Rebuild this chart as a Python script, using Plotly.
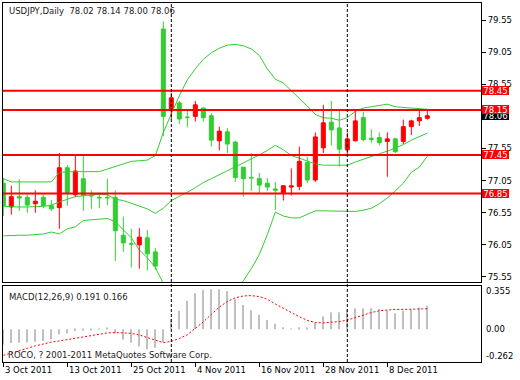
import plotly.graph_objects as go

# ---------------- data ----------------
dates = ["2011-10-03", "2011-10-04", "2011-10-05", "2011-10-06", "2011-10-07",
         "2011-10-10", "2011-10-11", "2011-10-12", "2011-10-13", "2011-10-14",
         "2011-10-17", "2011-10-18", "2011-10-19", "2011-10-20", "2011-10-21",
         "2011-10-24", "2011-10-25", "2011-10-26", "2011-10-27", "2011-10-28",
         "2011-10-31",
         "2011-11-01", "2011-11-02", "2011-11-03", "2011-11-04", "2011-11-07",
         "2011-11-08", "2011-11-09", "2011-11-10", "2011-11-11", "2011-11-14",
         "2011-11-15", "2011-11-16", "2011-11-17", "2011-11-18", "2011-11-21",
         "2011-11-22", "2011-11-23", "2011-11-24", "2011-11-25", "2011-11-28",
         "2011-11-29", "2011-11-30",
         "2011-12-01", "2011-12-02", "2011-12-05", "2011-12-06", "2011-12-07",
         "2011-12-08", "2011-12-09", "2011-12-12", "2011-12-13", "2011-12-14",
         "2011-12-15"]

opens = [77.01, 76.64, 76.80, 76.79, 76.69, 76.79, 76.66, 76.63, 77.25, 76.83,
         77.08, 76.82, 76.79, 76.79, 76.79, 76.20, 76.07, 76.05, 76.16, 75.94,
         79.41, 78.15, 78.26, 78.04, 78.05, 78.18, 78.06, 77.67, 77.81, 77.65,
         77.26, 77.10, 77.08, 77.01, 76.92, 76.86, 76.95, 76.96, 77.33, 77.06,
         77.56, 77.96, 77.87, 77.53, 77.67, 78.03, 77.71, 77.72, 77.66, 77.70,
         77.66, 77.89, 77.98, 78.02]
highs = [77.09, 76.97, 77.07, 76.84, 76.90, 76.84, 76.75, 77.48, 77.29, 77.44,
         77.44, 76.90, 76.86, 77.08, 76.90, 76.49, 76.30, 76.31, 76.28, 76.00,
         79.53, 78.42, 78.29, 78.15, 78.29, 78.18, 78.10, 77.89, 77.87, 77.67,
         77.26, 77.48, 77.17, 77.09, 77.03, 76.98, 77.24, 77.58, 77.42, 77.80,
         78.23, 78.29, 78.15, 77.80, 78.14, 78.12, 77.85, 77.80, 77.80, 77.72,
         78.00, 78.00, 78.15, 78.14]
lows = [76.50, 76.52, 76.58, 76.55, 76.55, 76.62, 76.58, 76.30, 76.66, 76.80,
        76.58, 76.61, 76.62, 76.67, 75.80, 75.94, 75.70, 75.68, 75.65, 75.66,
        77.74, 78.00, 77.93, 77.88, 77.97, 77.97, 77.58, 77.52, 77.48, 77.03,
        76.80, 76.89, 76.85, 76.89, 76.59, 76.74, 76.82, 76.90, 77.01, 77.03,
        77.48, 77.60, 77.27, 77.46, 77.66, 77.66, 77.64, 77.60, 77.11, 77.48,
        77.62, 77.76, 77.90, 78.00]
closes = [76.66, 76.80, 76.78, 76.67, 76.73, 76.66, 76.61, 77.25, 76.86, 77.20,
          76.82, 76.81, 76.78, 76.78, 76.27, 76.08, 76.06, 76.17, 75.91, 75.72,
          78.05, 78.34, 78.01, 78.03, 78.23, 78.03, 77.68, 77.82, 77.62, 77.10,
          77.08, 77.09, 76.98, 76.95, 76.90, 76.97, 76.97, 77.35, 77.06, 77.73,
          77.95, 77.84, 77.54, 77.70, 77.98, 77.69, 77.69, 77.64, 77.70, 77.50,
          77.89, 77.98, 78.03, 78.06]

bb_upper = [77.08, 77.03, 77.03, 77.03, 77.03, 77.03, 77.03, 77.18, 77.19, 77.19,
            77.19, 77.19, 77.19, 77.23, 77.27, 77.32, 77.35, 77.36, 77.37, 77.44,
            77.80, 78.09, 78.37, 78.62, 78.79, 78.94, 79.04, 79.11, 79.16, 79.17,
            79.15, 79.10, 79.00, 78.79, 78.63, 78.57, 78.45, 78.34, 78.21, 78.08,
            78.03, 78.02, 77.99, 78.03, 78.13, 78.18, 78.20, 78.23, 78.24, 78.20,
            78.19, 78.19, 78.18, 78.16]
bb_middle = [76.65, 76.64, 76.64, 76.64, 76.64, 76.65, 76.67, 76.72, 76.76, 76.80,
             76.81, 76.83, 76.84, 76.83, 76.76, 76.74, 76.70, 76.66, 76.61, 76.54,
             76.62, 76.74, 76.80, 76.87, 76.94, 77.02, 77.08, 77.14, 77.20, 77.26,
             77.32, 77.39, 77.45, 77.52, 77.60, 77.53, 77.44, 77.40, 77.35, 77.31,
             77.29, 77.29, 77.28, 77.29, 77.34, 77.38, 77.42, 77.46, 77.51, 77.56,
             77.61, 77.68, 77.73, 77.79]
bb_lower = [76.19, 76.20, 76.20, 76.20, 76.21, 76.22, 76.25, 76.22, 76.30, 76.33,
            76.43, 76.44, 76.46, 76.46, 76.41, 76.28, 76.16, 75.97, 75.85, 75.70,
            75.45, 75.39, 75.23, 75.12, 75.09, 75.10, 75.12, 75.17, 75.24, 75.35,
            75.49, 75.68, 75.90, 76.21, 76.56, 76.50, 76.47, 76.47, 76.53, 76.58,
            76.58, 76.58, 76.58, 76.58, 76.57, 76.59, 76.62, 76.69, 76.78, 76.89,
            77.01, 77.18, 77.26, 77.43]

macd_main = [-0.123, -0.112, -0.110, -0.108, -0.101, -0.095, -0.082, -0.040, -0.033, -0.015,
             -0.012, -0.005, 0.004, 0.006, -0.035, -0.085, -0.110, -0.140, -0.165, -0.150,
             -0.105, 0.080, 0.150, 0.231, 0.292, 0.319, 0.324, 0.324, 0.310, 0.243,
             0.196, 0.155, 0.117, 0.074, 0.044, 0.017, -0.002, 0.016, 0.012, 0.053,
             0.106, 0.138, 0.138, 0.160, 0.171, 0.171, 0.171, 0.165, 0.152, 0.130,
             0.150, 0.161, 0.177, 0.191]
macd_signal = [-0.212, -0.195, -0.172, -0.155, -0.135, -0.117, -0.105, -0.095, -0.084, -0.072,
               -0.058, -0.047, -0.038, -0.030, -0.027, -0.027, -0.033, -0.047, -0.068, -0.090,
               -0.109, -0.098, -0.075, -0.045, 0.005, 0.060, 0.120, 0.180, 0.225, 0.255,
               0.270, 0.273, 0.265, 0.243, 0.205, 0.169, 0.135, 0.101, 0.072, 0.054,
               0.052, 0.055, 0.062, 0.074, 0.095, 0.120, 0.135, 0.150, 0.158, 0.161,
               0.161, 0.162, 0.165, 0.166]

levels = [78.45, 78.15, 77.45, 76.85]
last_price = 78.06
price_ticks = [75.55, 76.05, 76.55, 77.05, 77.55, 78.05, 78.55, 79.05, 79.55]
price_tick_labels = ["75.55", "76.05", "76.55", "77.05", "77.55", "", "78.55", "79.05", "79.55"]
macd_labels = [0.355, 0.00, -0.262]
macd_label_text = ["0.355", "0.00", "-0.262"]
date_tick_dates = ["2011-10-03", "2011-10-13", "2011-10-25", "2011-11-04",
                   "2011-11-16", "2011-11-28", "2011-12-08"]
date_tick_labels = ["3 Oct 2011", "13 Oct 2011", "25 Oct 2011", "4 Nov 2011",
                    "16 Nov 2011", "28 Nov 2011", "8 Dec 2011"]
header_text = "USDJPY,Daily  78.02 78.14 78.00 78.06"
macd_title = "MACD(12,26,9) 0.191 0.166"
copyright_text = "ROCO, ? 2001-2011 MetaQuotes Software Corp."

# ---------------- styling ----------------
W, H = 520, 380
GREEN = "#32CD32"
RED = "#FF0000"
FONT = "DejaVu Sans"
FS = 8.5


def fx(p):
    return p / W


def fy(p):
    return 1 - p / H


n = len(dates)
up_idx = [i for i in range(n) if closes[i] > opens[i]]
dn_idx = [i for i in range(n) if closes[i] <= opens[i]]

fig = go.Figure()


def wick_trace(idx, color):
    xs, ys = [], []
    for i in idx:
        xs += [dates[i], dates[i], None]
        ys += [lows[i], highs[i], None]
    return go.Scatter(x=xs, y=ys, mode="lines", line=dict(color=color, width=1),
                      xaxis="x2", yaxis="y", hoverinfo="skip", showlegend=False)


def body_trace(idx, color):
    return go.Bar(x=[dates[i] for i in idx],
                  y=[max(abs(closes[i] - opens[i]), 0.004) for i in idx],
                  base=[min(opens[i], closes[i]) for i in idx],
                  width=0.5, marker=dict(color=color, line=dict(color=color, width=1)),
                  xaxis="x2", yaxis="y", hoverinfo="skip", showlegend=False)


# Bollinger bands
for band in (bb_upper, bb_middle, bb_lower):
    fig.add_trace(go.Scatter(x=dates, y=band, mode="lines",
                             line=dict(color=GREEN, width=1),
                             xaxis="x2", yaxis="y", hoverinfo="skip", showlegend=False))

fig.add_trace(wick_trace(dn_idx, GREEN))
fig.add_trace(wick_trace(up_idx, RED))
fig.add_trace(body_trace(dn_idx, GREEN))
fig.add_trace(body_trace(up_idx, RED))

# MACD
fig.add_trace(go.Bar(x=dates, y=macd_main, width=0.15,
                     marker=dict(color="#C0C0C0", line=dict(width=0)),
                     xaxis="x", yaxis="y2", hoverinfo="skip", showlegend=False))
fig.add_trace(go.Scatter(x=dates, y=macd_signal, mode="lines",
                         line=dict(color=RED, width=1, dash="2px,2px"),
                         xaxis="x", yaxis="y2", hoverinfo="skip", showlegend=False))

x_range = [-0.04, 59.71]
main_top, main_bot = 3, 282
macd_top, macd_bot = 285.5, 361.5
xdom = [fx(3), fx(481)]

axis_common = dict(showline=True, mirror=True, linecolor="black", linewidth=1,
                   showgrid=False, zeroline=False)

fig.update_layout(
    width=W, height=H, margin=dict(l=0, r=0, t=0, b=0),
    paper_bgcolor="white", plot_bgcolor="white",
    showlegend=False, barmode="overlay",
    font=dict(family=FONT, size=FS, color="black"),
    xaxis=dict(domain=xdom, anchor="y2", type="category", range=x_range,
               ticks="outside", ticklen=4, tickcolor="black",
               tickvals=date_tick_dates, showticklabels=False, **axis_common),
    xaxis2=dict(domain=xdom, anchor="y", type="category", range=x_range,
                matches="x", ticks="", showticklabels=False, **axis_common),
    yaxis=dict(domain=[fy(main_bot), fy(main_top)], anchor="x2", side="right",
               range=[75.472, 79.815], tickvals=price_ticks, ticktext=price_tick_labels,
               ticks="outside", ticklen=4, tickcolor="black",
               tickfont=dict(family=FONT, size=FS, color="black"), **axis_common),
    yaxis2=dict(domain=[fy(macd_bot), fy(macd_top)], anchor="x", side="right",
                range=[-0.262, 0.355], showticklabels=False, ticks="", **axis_common),
)

shapes = []
for lv in levels:
    shapes.append(dict(type="line", xref="x2 domain", x0=0, x1=1, yref="y", y0=lv, y1=lv,
                       line=dict(color=RED, width=2), layer="above"))
sep_dates = [d for i, d in enumerate(dates) if i > 0 and d[5:7] != dates[i - 1][5:7]]
for d in sep_dates:
    shapes.append(dict(type="line", xref="x", x0=d, x1=d, yref="paper",
                       y0=fy(362), y1=fy(3),
                       line=dict(color="black", width=1, dash="3px,2px"), layer="above"))
fig.update_layout(shapes=shapes)

ann = []
# price boxes: current price (black) first, then levels (red) on top
ann.append(dict(x=fx(482), xref="paper", xanchor="left", y=last_price, yref="y",
                yanchor="middle", text=f"{last_price:.2f}", showarrow=False,
                bgcolor="black", font=dict(color="white", size=FS, family=FONT),
                width=27, height=9, borderpad=0, borderwidth=0))
for lv in levels:
    ann.append(dict(x=fx(482), xref="paper", xanchor="left", y=lv, yref="y",
                    yanchor="middle", text=f"{lv:.2f}", showarrow=False,
                    bgcolor=RED, font=dict(color="white", size=FS, family=FONT),
                    width=27, height=9, borderpad=0, borderwidth=0))
# MACD scale labels
macd_label_y = [291, 329, 356]
for v, t, py in zip(macd_labels, macd_label_text, macd_label_y):
    ann.append(dict(x=fx(484), xref="paper", xanchor="left", y=fy(py), yref="paper",
                    yanchor="middle", text=t, showarrow=False,
                    font=dict(color="black", size=FS, family=FONT)))
# date labels
for d, t in zip(date_tick_dates, date_tick_labels):
    ann.append(dict(x=d, xref="x", xanchor="left", xshift=0, y=fy(370), yref="paper",
                    yanchor="middle", text=t, showarrow=False,
                    font=dict(color="black", size=FS, family=FONT)))
# texts
ann.append(dict(x=fx(7), xref="paper", xanchor="left", y=fy(11), yref="paper",
                yanchor="middle", text=header_text, showarrow=False,
                font=dict(color="#222222", size=FS, family=FONT)))
ann.append(dict(x=fx(7), xref="paper", xanchor="left", y=fy(297), yref="paper",
                yanchor="middle", text=macd_title, showarrow=False,
                font=dict(color="#222222", size=FS, family=FONT)))
ann.append(dict(x=fx(6), xref="paper", xanchor="left", y=fy(355), yref="paper",
                yanchor="middle", text=copyright_text, showarrow=False,
                font=dict(color="#222222", size=FS, family=FONT)))
fig.update_layout(annotations=ann)

fig.write_html("out.html", config={"displayModeBar": False},
               post_script="document.body.style.margin='0';")
